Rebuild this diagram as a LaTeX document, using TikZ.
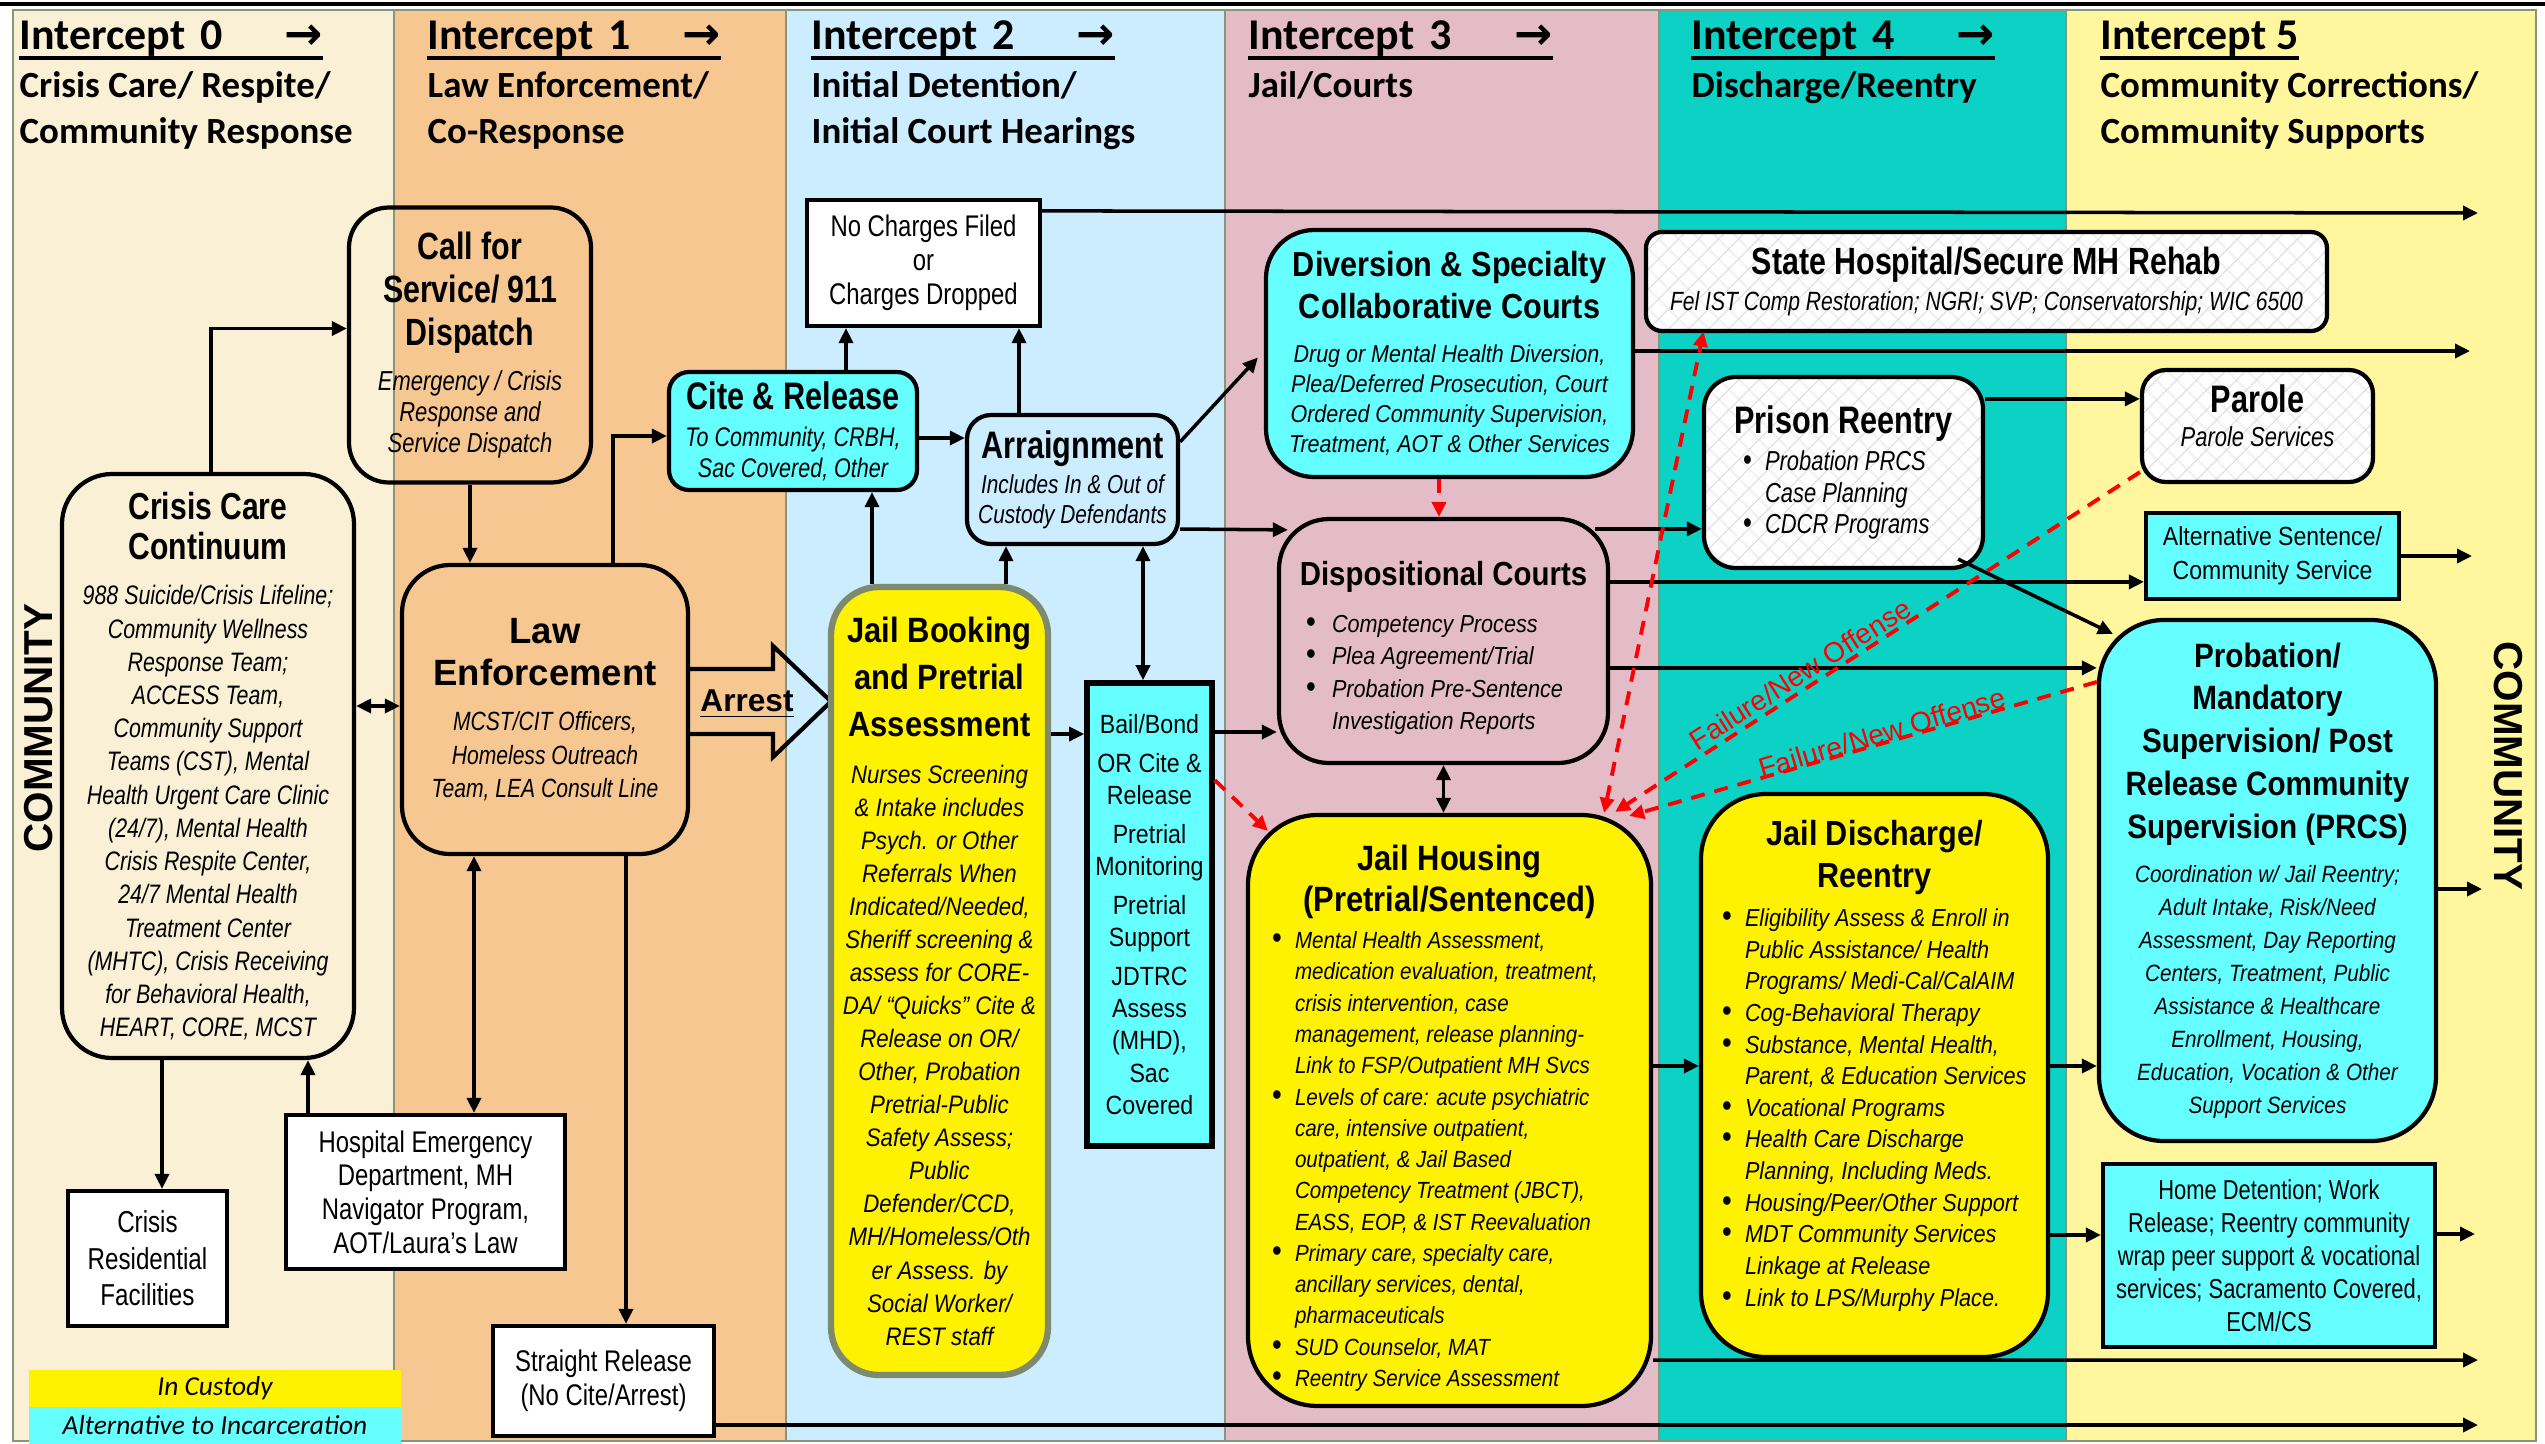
\documentclass[tikz,border=0pt]{standalone}
\usepackage{fontspec}
\setmainfont{Liberation Sans}
\newfontfamily\nar[FakeStretch=0.8]{Liberation Sans}
\newfontfamily\ari[FakeStretch=0.88]{Liberation Sans}
\newfontfamily\clb{Carlito}
\newfontfamily\djv{DejaVu Sans}
\usepackage{tikz}
\usetikzlibrary{arrows.meta,patterns.meta}
\tikzset{>={Triangle[length=1.5mm,width=1.4mm]}}

\definecolor{col0}{RGB}{250,240,213}
\definecolor{col1}{RGB}{247,199,145}
\definecolor{col2}{RGB}{204,236,255}
\definecolor{col3}{RGB}{228,188,200}
\definecolor{col4}{RGB}{12,210,198}
\definecolor{col5}{RGB}{255,246,158}
\definecolor{aqua}{RGB}{102,255,255}
\definecolor{sepgray}{RGB}{135,150,120}
\definecolor{jbline}{RGB}{125,138,110}

\newcommand{\fs}[2]{\fontsize{#1}{#2}\selectfont}
\newcommand{\ctr}[1]{{\leftskip=0pt plus 1fil\rightskip=0pt plus 1fil\parfillskip=0pt\relax #1\par}}
\newcommand{\bul}[1][2.3mm]{\par\noindent\llap{\hbox to #1{\upshape\fontsize{9pt}{9pt}\selectfont\textbullet\hss}}\ignorespaces}
% extra room under the text of a box (moves the text up or down)
\newcommand{\lift}[1]{\par\nointerlineskip\vspace{#1}\hbox{}}

\tikzset{
  ibox/.style={draw, line width=1.2pt, inner sep=0pt, align=flush center},
  rbox/.style={ibox, rounded corners=#1},
  rbox/.default=4.5mm,
  hatched/.style={preaction={fill=white},
    pattern={Hatch[angle=45,distance=4pt,line width=0.3pt]}, pattern color=black!13},
  conn/.style={line width=1pt},
  faildash/.style={red, line width=1.1pt, dash pattern=on 1.4mm off 1mm},
  ichead/.style={anchor=base west, inner sep=0pt, font=\clb\bfseries\fs{12.5}{15}},
  icsub/.style={anchor=base west, inner sep=0pt, align=flush left, text width=45mm,
    font=\clb\bfseries\fs{10.5}{13.2}},
  failtext/.style={red, inner sep=0pt, font=\fs{8}{9}}
}

\begin{document}
\begin{tikzpicture}[x=0.1mm,y=-0.1mm]
\useasboundingbox (0,0) rectangle (2545,1444);

% intercept columns
\fill[col0] (13,10) rectangle (394,1441);
\fill[col1] (394,10) rectangle (786,1441);
\fill[col2] (786,10) rectangle (1225,1441);
\fill[col3] (1225,10) rectangle (1659,1441);
\fill[col4] (1659,10) rectangle (2066,1441);
\fill[col5] (2066,10) rectangle (2536,1441);
\draw[sepgray, line width=0.8pt] (13,10) rectangle (2536,1441);
\draw[sepgray, line width=0.8pt] (394,10) -- (394,1441) (786,10) -- (786,1441)
  (1225,10) -- (1225,1441) (1659,10) -- (1659,1441) (2066,10) -- (2066,1441);
\draw[line width=0.9pt] (0,4) -- (2545,4);

% headings
\node[ichead, text width=30.3mm] (ic0) at (19,49) {Intercept 0\hfill{\djv\fs{13}{15}→}};
\node[ichead, text width=29.3mm] (ic1) at (427,49) {Intercept 1\hfill{\djv\fs{13}{15}→}};
\node[ichead, text width=30.3mm] (ic2) at (811,49) {Intercept 2\hfill{\djv\fs{13}{15}→}};
\node[ichead, text width=30.4mm] (ic3) at (1248,49) {Intercept 3\hfill{\djv\fs{13}{15}→}};
\node[ichead, text width=30.3mm] (ic4) at (1691,49) {Intercept 4\hfill{\djv\fs{13}{15}→}};
\node[ichead] (ic5) at (2100,49) {Intercept 5};
\draw[line width=1.3pt] ([yshift=-2.6pt]ic0.base west) -- ([yshift=-2.6pt]ic0.base east);
\draw[line width=1.3pt] ([yshift=-2.6pt]ic1.base west) -- ([yshift=-2.6pt]ic1.base east);
\draw[line width=1.3pt] ([yshift=-2.6pt]ic2.base west) -- ([yshift=-2.6pt]ic2.base east);
\draw[line width=1.3pt] ([yshift=-2.6pt]ic3.base west) -- ([yshift=-2.6pt]ic3.base east);
\draw[line width=1.3pt] ([yshift=-2.6pt]ic4.base west) -- ([yshift=-2.6pt]ic4.base east);
\draw[line width=1.3pt] ([yshift=-2.6pt]ic5.base west) -- ([yshift=-2.6pt]ic5.base east);

\node[icsub] (sub0) at (19,97) {Crisis Care/ Respite/\\Community Response};
\node[icsub] (sub1) at (427,97) {Law Enforcement/\\Co-Response};
\node[icsub] (sub2) at (811,97) {Initial Detention/\\Initial Court Hearings};
\node[icsub] (sub3) at (1248,97) {Jail/Courts};
\node[icsub] (sub4) at (1691,97) {Discharge/Reentry};
\node[icsub] (sub5) at (2100,97) {Community Corrections/\\Community Supports};

% intercept 0 and 1
\node[rbox=4mm, minimum width=24.2mm, minimum height=27.5mm, text width=24.2mm] (cfs) at (470,345)
  {{\nar\bfseries\fs{10.8}{12.2}Call for\\Service/ 911\\Dispatch\par}\vspace{4.1pt}%
   {\nar\itshape\fs{7.8}{8.8}Emergency / Crisis\\Response and\\Service Dispatch\par}};

\node[rbox=5mm, minimum width=29.2mm, minimum height=58.4mm, text width=29.2mm] (ccc) at (208,766)
  {{\nar\bfseries\fs{10.7}{11.5}Crisis Care\\Continuum\par}\vspace{3.45pt}%
   {\nar\itshape\fs{7.6}{9.45}988 Suicide/Crisis Lifeline;\\Community Wellness\\Response Team;\\ACCESS Team,\\Community Support\\Teams (CST), Mental\\Health Urgent Care Clinic\\(24/7), Mental Health\\Crisis Respite Center,\\24/7 Mental Health\\Treatment Center\\(MHTC), Crisis Receiving\\for Behavioral Health,\\HEART, CORE, MCST\par}};

\node[rbox=4.8mm, minimum width=28.6mm, minimum height=28.9mm, text width=28.6mm] (le) at (545,709.5)
  {{\bfseries\fs{10.4}{12}Law\\Enforcement\par}\vspace{3.45pt}%
   {\nar\itshape\fs{7.5}{9.45}MCST/CIT Officers,\\Homeless Outreach\\Team, LEA Consult Line\par}};

\node[ibox, fill=white, minimum width=15.9mm, minimum height=13.5mm, text width=15.9mm,
  font=\nar\fs{8.6}{10.4}] (crf) at (147.5,1258.5) {Crisis\\Residential\\Facilities};
\node[ibox, fill=white, minimum width=27.9mm, minimum height=15.4mm, text width=27.9mm,
  font=\nar\fs{8.5}{9.6}] (hosp) at (425.5,1192) {Hospital Emergency\\Department, MH\\Navigator Program,\\AOT/Laura’s Law};
\node[ibox, fill=white, minimum width=22.1mm, minimum height=11mm, text width=22.1mm,
  font=\nar\fs{8.5}{9.7}] (sr) at (603.5,1381) {Straight Release\\(No Cite/Arrest)};

% arrest arrow
\draw[line width=1.2pt] (688,669) -- (773,669) -- (773,646) -- (831,701.5) -- (773,757) -- (773,734) -- (688,734);
\node[inner sep=0pt, font=\bfseries\fs{9}{10}] (arl) at (747,704) {\underline{Arrest}};

% intercept 2
\node[rbox=2mm, fill=aqua, minimum width=24.8mm, minimum height=11.8mm, text width=24.8mm] (cite) at (793,431)
  {{\nar\bfseries\fs{10.9}{12}Cite \& Release\par}\vspace{1.8pt}%
   {\nar\itshape\fs{7.65}{8.8}To Community, CRBH,\\Sac Covered, Other\par}};
\node[ibox, fill=white, minimum width=23.3mm, minimum height=12.6mm, text width=23.3mm,
  font=\nar\fs{8.5}{9.7}] (nc) at (923.5,263) {No Charges Filed\\or\\Charges Dropped};
\node[rbox=2.4mm, minimum width=21.1mm, minimum height=12.9mm, text width=21.1mm] (arr) at (1072.5,479.5)
  {{\nar\bfseries\fs{10.9}{12}Arraignment\par}\vspace{1.8pt}%
   {\nar\itshape\fs{7.4}{8.4}Includes In \& Out of\\Custody Defendants\par}};
\node[rbox=4.8mm, draw=jbline, line width=1.8pt, fill=yellow, minimum width=21.7mm, minimum height=78.8mm,
  text width=21.7mm] (jb) at (939.5,981)
  {{\ari\bfseries\fs{10}{13.4}Jail Booking\\and Pretrial\\Assessment\par}\vspace{4pt}%
   {\ari\itshape\fs{7.2}{9.4}Nurses Screening\\\& Intake includes\\Psych. or Other\\Referrals When\\Indicated/Needed,\\Sheriff screening \&\\assess for CORE-\\DA/ “Quicks” Cite \&\\Release on OR/\\Other, Probation\\Pretrial-Public\\Safety Assess;\\Public\\Defender/CCD,\\MH/Homeless/Oth\\er Assess. by\\Social Worker/\\REST staff\par}};
\node[ibox, fill=aqua, line width=1.6pt, minimum width=12.5mm, minimum height=46.3mm, text width=12.5mm,
  font=\ari\fs{7.5}{9.2}] (bail) at (1149.5,914.5)
  {Bail/Bond\\[1.8pt]OR Cite \&\\Release\\[1.8pt]Pretrial\\Monitoring\\[1.8pt]Pretrial\\Support\\[1.8pt]JDTRC\\Assess\\(MHD),\\Sac\\Covered};

% intercept 3
\node[rbox=4.8mm, fill=aqua, minimum width=36.7mm, minimum height=24.7mm, text width=36.7mm] (div) at (1449.5,353.5)
  {{\ari\bfseries\fs{9.9}{12}Diversion \& Specialty\\Collaborative Courts\par}\vspace{3.8pt}%
   {\ari\itshape\fs{6.95}{8.6}Drug or Mental Health Diversion,\\Plea/Deferred Prosecution, Court\\Ordered Community Supervision,\\Treatment, AOT \& Other Services\par}};
\node[rbox=5mm, minimum width=32.9mm, minimum height=24.4mm, text width=31.9mm, align=flush left] (disp) at (1443.5,641)
  {\ari\bfseries\fs{9.5}{11}\ctr{Dispositional Courts}%
   \mdseries\itshape\fs{7}{9.2}\leftskip=4.8mm\vspace{4.2pt}%
   \bul[2.6mm]Competency Process
   \bul[2.6mm]Plea Agreement/Trial
   \bul[2.6mm]Probation Pre-Sentence\\Investigation Reports\lift{-4pt}};
\node[rbox=7mm, fill=yellow, minimum width=40.3mm, minimum height=59.1mm, text width=39.3mm, align=flush left] (jh) at (1449.5,1110.5)
  {\ari\bfseries\fs{10}{11.5}\ctr{Jail Housing}\ctr{(Pretrial/Sentenced)}%
   \mdseries\itshape\fs{6.65}{8.9}\leftskip=4.2mm\vspace{1.7pt}%
   \bul Mental Health Assessment,\\medication evaluation, treatment,\\crisis intervention, case\\management, release planning-\\Link to FSP/Outpatient MH Svcs
   \bul Levels of care: acute psychiatric\\care, intensive outpatient,\\outpatient, \& Jail Based\\Competency Treatment (JBCT),\\EASS, EOP, \& IST Reevaluation
   \bul Primary care, specialty care,\\ancillary services, dental,\\pharmaceuticals
   \bul SUD Counselor, MAT
   \bul Reentry Service Assessment\lift{-4.5pt}};

% intercept 4
\node[rbox=1.6mm, hatched, minimum width=68.1mm, minimum height=9.9mm, text width=68.1mm] (sh) at (1986.5,281.5)
  {{\nar\bfseries\fs{10.8}{12}State Hospital/Secure MH Rehab\par}%
   {\nar\itshape\fs{7.5}{10.2}Fel IST Comp Restoration; NGRI; SVP; Conservatorship; WIC 6500\par}};
\node[rbox=3.2mm, hatched, minimum width=27.9mm, minimum height=19.1mm, text width=26.9mm, align=flush left] (pr) at (1843.5,472.5)
  {\nar\bfseries\fs{10.9}{12}\ctr{Prison Reentry}%
   \mdseries\itshape\fs{7.8}{9}\leftskip=5.6mm\vspace{1.6pt}%
   \bul[2.2mm]Probation PRCS\\Case Planning
   \bul[2.2mm]CDCR Programs\par};
\node[rbox=6.5mm, fill=yellow, minimum width=34.7mm, minimum height=56.3mm, text width=33.7mm, align=flush left] (jd) at (1874.5,1075.5)
  {\ari\bfseries\fs{9.9}{12}\ctr{Jail Discharge/}\ctr{Reentry}%
   \mdseries\itshape\fs{7}{9}\leftskip=3.9mm\vspace{2.1pt}%
   \bul Eligibility Assess \& Enroll in\\Public Assistance/ Health\\Programs/ Medi-Cal/CalAIM
   \bul Cog-Behavioral Therapy
   \bul Substance, Mental Health,\\Parent, \& Education Services
   \bul Vocational Programs
   \bul Health Care Discharge\\Planning, Including Meds.
   \bul Housing/Peer/Other Support
   \bul MDT Community Services\\Linkage at Release
   \bul Link to LPS/Murphy Place.\lift{5.6pt}};

% intercept 5
\node[rbox=2.4mm, hatched, minimum width=23.1mm, minimum height=11.2mm, text width=23.1mm] (par) at (2257.5,426)
  {{\nar\bfseries\fs{10.9}{12}Parole\par}{\nar\itshape\fs{7.8}{9.6}Parole Services\par}\lift{6pt}};
\node[ibox, fill=aqua, minimum width=25.3mm, minimum height=8.6mm, text width=25.3mm,
  font=\ari\fs{7.45}{9.7}] (alt) at (2272.5,556) {Alternative Sentence/\\Community Service};
\node[rbox=6.5mm, fill=aqua, minimum width=33.7mm, minimum height=52.1mm, text width=33.7mm] (prob) at (2267.5,880.5)
  {{\ari\bfseries\fs{9.6}{12.2}Probation/\\Mandatory\\Supervision/ Post\\Release Community\\Supervision (PRCS)\par}\vspace{3pt}%
   {\ari\itshape\fs{6.7}{9.4}Coordination w/ Jail Reentry;\\Adult Intake, Risk/Need\\Assessment, Day Reporting\\Centers, Treatment, Public\\Assistance \& Healthcare\\Enrollment, Housing,\\Education, Vocation \& Other\\Support Services\par}};
\node[ibox, fill=aqua, minimum width=33.2mm, minimum height=18.3mm, text width=33.2mm,
  font=\nar\fs{7.8}{9.35}] (hd) at (2269,1255.5)
  {Home Detention; Work\\Release; Reentry community\\wrap peer support \& vocational\\services; Sacramento Covered,\\ECM/CS};

% legend and side labels
\node[fill=yellow, minimum width=37.2mm, minimum height=3.7mm, inner sep=0pt,
  font=\clb\itshape\fs{7.8}{9}] (lgy) at (215,1388.5) {In Custody};
\node[fill=aqua, minimum width=37.2mm, minimum height=3.7mm, inner sep=0pt,
  font=\clb\itshape\fs{7.8}{9}] (lgc) at (215,1425.5) {Alternative to Incarceration};
\node[rotate=90, font=\bfseries\fs{11.5}{12}] (comL) at (39,728) {COMMUNITY};
\node[rotate=-90, font=\bfseries\fs{11.5}{12}] (comR) at (2508,766) {COMMUNITY};

% free ends towards the community
\coordinate (out1) at (2478,213);
\coordinate (out2) at (2470,351);
\coordinate (out3) at (2472,556);
\coordinate (out4) at (2482,889);
\coordinate (out5) at (2475,1234);
\coordinate (out6) at (2478,1360);
\coordinate (out7) at (2478,1425);

% connectors
\draw[conn,->] ([xshift=0.3mm]ccc.north) |- ([yshift=1.65mm]cfs.west);
\draw[conn,->] (cfs.south) -- (cfs.south |- le.north);
\draw[conn,<->] ([yshift=6mm]ccc.east) -- ([yshift=6mm]ccc.east -| le.west);
\draw[conn,->] ([xshift=6.8mm]le.north) |- ([yshift=-0.5mm]cite.west);
\draw[conn,<->] ([xshift=-7.1mm]le.south) -- ([xshift=-7.1mm]le.south |- hosp.north);
\draw[conn,->] ([xshift=8.1mm]le.south) -- ([xshift=8.1mm]le.south |- sr.north);
\draw[conn,->] (sr.east |- out7) -- (out7);
\draw[conn,->] ([xshift=-4.6mm]ccc.south) -- ([xshift=-4.6mm]ccc.south |- crf.north);
\draw[conn,->] ([xshift=-11.75mm]hosp.north) -- ([xshift=-11.75mm]hosp.north |- ccc.south);

\draw[conn,->] ([xshift=5.3mm]cite.north) -- ([xshift=5.3mm]cite.north |- nc.south);
\draw[conn,->] ([xshift=-6.75mm]jb.north) -- ([xshift=-6.75mm]jb.north |- cite.south);
\draw[conn,->] ([yshift=-0.7mm]cite.east) -- ([yshift=-0.7mm]cite.east -| arr.west);
\draw[conn,->] ([xshift=-5.35mm]arr.north) -- ([xshift=-5.35mm]arr.north |- nc.south);
\draw[conn,->] ([xshift=6.65mm]jb.north) -- ([xshift=6.65mm]jb.north |- arr.south);
\draw[conn,<->] ([xshift=7.05mm]arr.south) -- ([xshift=7.05mm]arr.south |- bail.north);
\draw[conn,->] ([yshift=24.7mm]jb.east) -- ([yshift=24.7mm]jb.east -| bail.west);
\draw[conn,->] ([yshift=18.25mm]bail.east) -- ([yshift=18.25mm]bail.east -| disp.west);
\draw[faildash,->] ([yshift=-10mm]bail.north east) -- ([xshift=2.2mm,yshift=-1.8mm]jh.north west);
\draw[conn,->] ([yshift=-2.9mm]arr.north east) -- ([xshift=-0.6mm,yshift=-0.4mm]div.west);
\draw[conn,->] ([yshift=-4.95mm]arr.east) -- ([xshift=1.1mm,yshift=-1.3mm]disp.north west);
\draw[conn,->] ([yshift=-1.3mm]nc.north east) -- (out1);

\draw[conn,->] (div.east |- out2) -- (out2);
\draw[faildash,->] ([xshift=-1.05mm]div.south) -- ([xshift=-1.05mm]div.south |- disp.north);
\draw[conn,->] ([xshift=-1.5mm,yshift=-1.2mm]disp.north east) -- ([yshift=-1.2mm]disp.north east -| pr.west);
\draw[conn,->] ([yshift=-6.5mm]disp.north east) -- ([yshift=-6.5mm]disp.north east -| alt.west);
\draw[conn,->] ([yshift=-15.1mm]disp.north east) -- ([yshift=-15.1mm]disp.north east -| prob.west);
\draw[conn,<->] (disp.south) -- (disp.south |- jh.north);
\draw[conn,->] ([yshift=4.45mm]jh.east) -- ([yshift=4.45mm]jh.east -| jd.west);
\draw[conn,->] ([yshift=-24.95mm]jh.east) -- (out6);

\draw[conn,->] ([yshift=-2.4mm]pr.north east) -- ([yshift=-2.4mm]pr.north east -| par.west);
\draw[conn,->] ([xshift=-2.7mm,yshift=1.1mm]pr.south east) -- ([xshift=1.6mm,yshift=-1.6mm]prob.north west);
\draw[faildash,->] ([yshift=1.2mm]par.south west) -- ([xshift=-3.8mm,yshift=0.1mm]jh.north east);
\draw[faildash,->] ([yshift=-6.4mm]prob.north west) -- ([xshift=-2.4mm,yshift=-0.3mm]jh.north east);
\draw[faildash,<->] ([xshift=-4.9mm]jh.north east) -- ([xshift=5.8mm]sh.south west);
\node[failtext, rotate=32.5] (fo1) at (1800,674) {Failure/New Offense};
\node[failtext, rotate=16.5] (fo2) at (1882,733) {Failure/New Offense};
\draw[conn,->] ([yshift=0.95mm]jd.east) -- ([yshift=0.95mm]jd.east -| prob.west);
\draw[conn,->] ([yshift=-15.95mm]jd.east) -- ([yshift=-15.95mm]jd.east -| hd.west);
\draw[conn,->] (alt.east) -- (out3);
\draw[conn,->] (prob.east |- out4) -- (out4);
\draw[conn,->] (hd.east |- out5) -- (out5);

\end{tikzpicture}
\end{document}
